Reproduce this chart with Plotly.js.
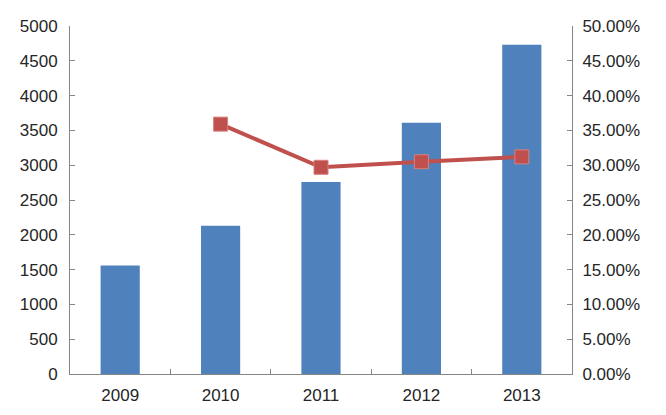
<!DOCTYPE html>
<html>
<head>
<meta charset="utf-8">
<script src="https://cdn.plot.ly/plotly-3.0.1.min.js"></script>
<style>
  html, body { margin: 0; padding: 0; background: #fff; }
  #chart { width: 666px; height: 415px; }
</style>
</head>
<body>
<div id="chart"></div>
<script>
// data
var years = ['2009', '2010', '2011', '2012', '2013'];
var barValues = [1560, 2130, 2760, 3610, 4730];
var lineYears = ['2010', '2011', '2012', '2013'];
var growthRates = [0.359, 0.297, 0.305, 0.312];

var traces = [
    {
        x: years,
        y: barValues,
        type: 'bar',
        marker: { color: '#4f81bd' },
        hoverinfo: 'x+y'
    },
    {
        x: lineYears,
        y: growthRates,
        type: 'scatter',
        mode: 'lines+markers',
        yaxis: 'y2',
        line: { color: '#c0504d', width: 4 },
        marker: { symbol: 'square', size: 14, color: '#c0504d',
                  line: { color: '#d8807d', width: 1 } }
    }
];

var axisFont = { family: 'Liberation Sans, Arial, sans-serif', size: 17, color: '#262626' };

var layout = {
    width: 666,
    height: 415,
    margin: { l: 70, r: 94, t: 26, b: 41 },
    showlegend: false,
    bargap: 0.61,
    paper_bgcolor: '#fff',
    plot_bgcolor: '#fff',
    xaxis: {
        type: 'category',
        showline: true,
        linecolor: '#868686',
        linewidth: 1,
        ticks: 'inside',
        tickson: 'boundaries',
        ticklen: 5,
        tickcolor: '#868686',
        tickfont: axisFont,
        ticklabelstandoff: 6,
        showgrid: false,
        zeroline: false
    },
    yaxis: {
        range: [0, 5000],
        dtick: 500,
        showline: true,
        linecolor: '#868686',
        ticks: 'inside',
        ticklen: 5,
        tickcolor: '#868686',
        tickfont: axisFont,
        ticklabelstandoff: 8,
        showgrid: false,
        zeroline: false
    },
    yaxis2: {
        overlaying: 'y',
        side: 'right',
        range: [0, 0.5],
        dtick: 0.05,
        tickformat: '.2%',
        showline: true,
        linecolor: '#868686',
        ticks: 'inside',
        ticklen: 5,
        tickcolor: '#868686',
        tickfont: axisFont,
        ticklabelstandoff: 6,
        showgrid: false,
        zeroline: false
    }
};

Plotly.newPlot('chart', traces, layout, { displayModeBar: false, staticPlot: true });
</script>
</body>
</html>
